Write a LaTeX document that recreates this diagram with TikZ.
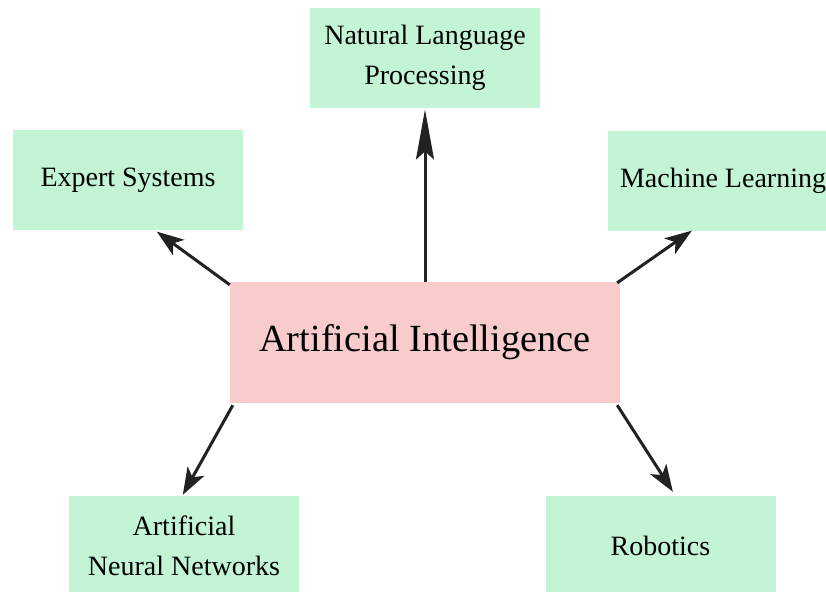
\documentclass[tikz,border=0pt]{standalone}
\usepackage{fontspec}
\setmainfont{Liberation Serif}
\usetikzlibrary{arrows.meta,calc}
\definecolor{boxgreen}{RGB}{195,244,214}
\definecolor{boxpink}{RGB}{248,203,204}
\definecolor{linedark}{RGB}{34,34,34}
\begin{document}
\begin{tikzpicture}[x=1pt,y=-1pt,
  leaf/.style={rectangle,fill=boxgreen,draw=none,minimum width=230pt,minimum height=100pt,
    inner sep=0pt,align=center,font=\fontsize{28}{40}\selectfont},
  core/.style={rectangle,fill=boxpink,draw=none,minimum width=390pt,minimum height=121pt,
    inner sep=0pt,align=center,font=\fontsize{38.4}{46}\selectfont},
  link/.style={draw=linedark,line width=3pt,-{Stealth[length=27pt,width=19pt,inset=7pt]}},
  longlink/.style={draw=linedark,line width=3pt,-{Stealth[length=50pt,width=18pt,inset=8pt]}}]
\useasboundingbox (0,0) rectangle (826,591);
\fill[white] (0,0) rectangle (826,591);
\node[core] (ai) at (425,342.5) {Artificial Intelligence};
\node[leaf] (nlp) at (425,58.25) {Natural Language\\Processing};
\node[leaf] (es) at (128,180.4) {Expert Systems};
\node[leaf] (ml) at (723,180.5) {\raisebox{3pt}{Machine Learning}};
\node[leaf] (ann) at (184,546) {Artificial\\Neural Networks};
\node[leaf] (rob) at (660.5,546) {Robotics};
\draw[longlink] (ai.north) -- ($(nlp.south)+(0,1)$);
\draw[link] ($(ai.north west)+(0,3)$) -- ($(es.south west)+(144,1)$);
\draw[link] ($(ai.north east)+(-3,1)$) -- ($(ml.south west)+(84,0)$);
\draw[link] ($(ai.south west)+(3,2)$) -- ($(ann.north west)+(114,-1)$);
\draw[link] ($(ai.south east)+(-3,2)$) -- ($(rob.north west)+(127.6,-4)$);
\end{tikzpicture}
\end{document}
